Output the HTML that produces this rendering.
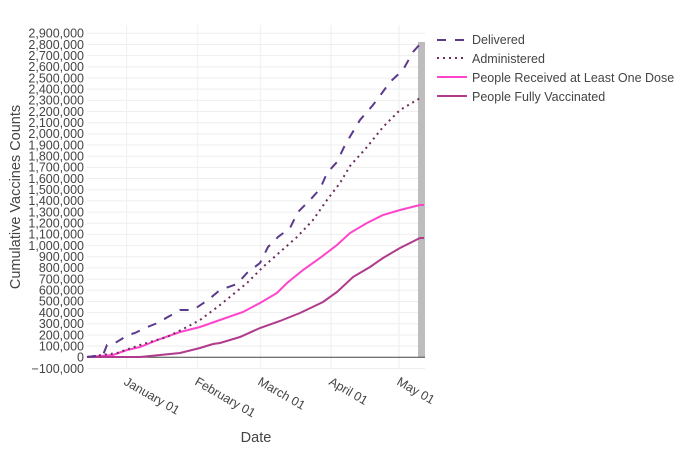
<!DOCTYPE html>
<html><head><meta charset="utf-8"><style>body{margin:0;background:#fff}svg{display:block}text{font-family:"Liberation Sans",sans-serif;fill:#444}</style></head><body>
<svg width="700" height="450" xmlns="http://www.w3.org/2000/svg">
<g stroke="#eee" stroke-width="1">
<line x1="126.7" y1="25" x2="126.7" y2="369"/><line x1="197.7" y1="25" x2="197.7" y2="369"/><line x1="260.3" y1="25" x2="260.3" y2="369"/><line x1="331" y1="25" x2="331" y2="369"/><line x1="399" y1="25" x2="399" y2="369"/>
<g id="hg"></g>
</g>
<g id="yl" font-size="12.5" text-anchor="end"></g>
<rect x="418" y="42" width="7" height="315" fill="#bdbdbd"/>
<line x1="87" y1="357.3" x2="425" y2="357.3" stroke="#444" stroke-width="1"/>
<g fill="none" stroke-width="2">
<polyline stroke="#ff44cc" points="87,357 113,355 127,350 140,347 160,339 180,332 200,327 220,320 243,312 260,303 277,293 287,283 303,270 320,258 337,245 350,233 367,223 383,215 400,210 420,205 424,205"/>
<polyline stroke="#b03a8c" points="87,357 140,357 160,355 180,353 200,348 213,344 220,343 240,337 260,328 280,321 300,313 323,302 337,292 353,277 370,267 383,258 400,248 420,238 424,238"/>
<polyline stroke="#6b2d5c" stroke-dasharray="2,4" points="87,357 117,353 140,345 167,337 187,327 200,320 220,305 247,283 263,267 280,252 297,237 313,220 327,200 340,183 350,166 367,147 383,127 400,110 422,97"/>
<polyline stroke="#5b3a8c" stroke-dasharray="9,9" points="87,357 95,356 103,355 107,345 115,343 120,340 128,335 135,333 145,328 150,326 160,322 166,318 175,313 180,310 193,310 208,300 220,290 237,284 247,273 260,263 268,247 278,237 290,228 298,212 310,200 320,189 327,173 337,162 345,145 360,120 373,105 382,93 390,82 403,70 413,52 421,43 424,42"/>
</g>
<g font-size="12.5">
<text transform="translate(123,384) rotate(30)">January 01</text>
<text transform="translate(194,384) rotate(30)">February 01</text>
<text transform="translate(257,384) rotate(30)">March 01</text>
<text transform="translate(328,384) rotate(30)">April 01</text>
<text transform="translate(396,384) rotate(30)">May 01</text>
</g>
<text x="256" y="442" font-size="14.5" text-anchor="middle">Date</text>
<text transform="translate(20,197) rotate(-90)" font-size="14.5" text-anchor="middle">Cumulative Vaccines Counts</text>
<g stroke-width="2" fill="none">
<line x1="437" y1="40" x2="467" y2="40" stroke="#5b3a8c" stroke-dasharray="9,9"/>
<line x1="437" y1="58" x2="467" y2="58" stroke="#6b2d5c" stroke-dasharray="2,4"/>
<line x1="437" y1="77" x2="467" y2="77" stroke="#ff44cc"/>
<line x1="437" y1="96" x2="467" y2="96" stroke="#b03a8c"/>
</g>
<g font-size="12.5">
<text x="472" y="44">Delivered</text>
<text x="472" y="63">Administered</text>
<text x="472" y="82">People Received at Least One Dose</text>
<text x="472" y="101">People Fully Vaccinated</text>
</g>
<script>
var hg=document.getElementById('hg'),yl=document.getElementById('yl'),ns='http://www.w3.org/2000/svg';
for(var v=-1;v<=29;v++){var y=357.3-v*11.172;
if(v!=0){var l=document.createElementNS(ns,'line');l.setAttribute('x1',87);l.setAttribute('x2',425);l.setAttribute('y1',y);l.setAttribute('y2',y);hg.appendChild(l);}
var t=document.createElementNS(ns,'text');t.setAttribute('x',84);t.setAttribute('y',y+4.3);
var s=v==0?'0':(Math.abs(v*100000)).toLocaleString('en-US');if(v<0)s='\u2212'+s;t.textContent=s;yl.appendChild(t);}
</script>
</svg></body></html>
